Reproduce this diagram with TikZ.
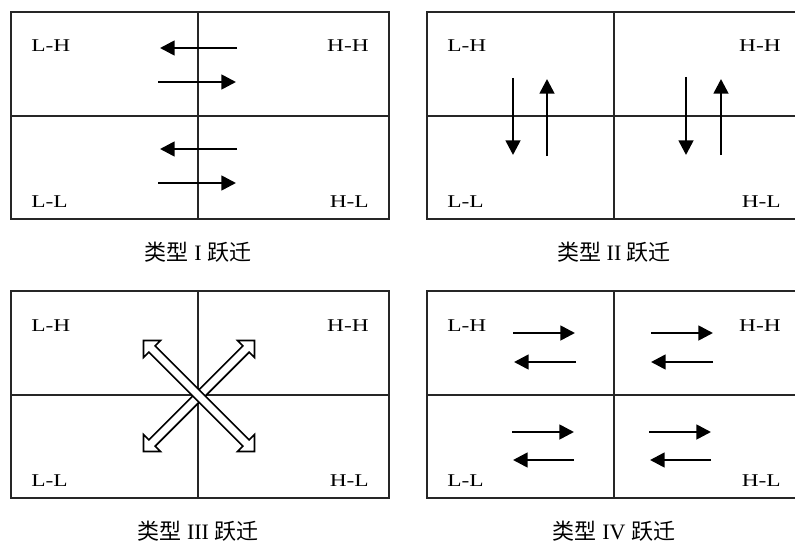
\documentclass[tikz,border=0pt]{standalone}
\usepackage{fontspec}
\setmainfont{Liberation Serif}
\newfontfamily\labfont[FakeStretch=1.3]{Liberation Serif}
\newfontfamily\cjk{Noto Sans CJK SC}
\usetikzlibrary{arrows.meta}

\tikzset{
  frame/.style={draw=black!85, line width=0.8pt},
  lbl/.style={inner sep=0pt, font=\labfont\fontsize{13.5pt}{16pt}\selectfont},
  captext/.style={inner sep=0pt, anchor=base, font=\fontsize{16.5pt}{20pt}\selectfont},
  arr/.style={line width=2pt, -{Triangle[length=11pt,width=11pt]}},
  hollow/.style={draw=black, line width=1.2pt, fill=white, line join=miter},
}

% one 2x2 panel: #1 left, #2 top, #3 middle x, #4 right, #5 name prefix, #6 caption numeral
\newcommand\quadpanel[6]{%
  \draw[frame] (#1,#2) rectangle (#4,#2+207);
  \draw[frame] (#3,#2) -- (#3,#2+207);
  \draw[frame] (#1,#2+104) -- (#4,#2+104);
  \node[lbl, anchor=base west] (#5lh) at (#1+20,#2+40) {L-H};
  \node[lbl, anchor=base east] (#5hh) at (#4-20,#2+40) {H-H};
  \node[lbl, anchor=base west] (#5ll) at (#1+20,#2+195) {L-L};
  \node[lbl, anchor=base east] (#5hl) at (#4-20,#2+195) {H-L};
  \node[captext] (#5cap) at (#3,#2+248) {{\cjk 类型} #6 {\cjk 跃迁}};
}

% double-headed block arrow along the local x axis
\newcommand\blockarrow{%
  \filldraw[hollow] (-78.5,0) -- (-66.5,12) -- (-66.5,4.5) -- (66.5,4.5) -- (66.5,12)
    -- (78.5,0) -- (66.5,-12) -- (66.5,-4.5) -- (-66.5,-4.5) -- (-66.5,-12) -- cycle;
}

\begin{document}
\begin{tikzpicture}[x=0.75pt, y=-0.75pt]
  \clip (0,0) rectangle (795,542);

  % type I: horizontal hops across the middle line
  \quadpanel{11}{12}{198}{389}{a}{I}
  \draw[arr] (237,48) -- (160,48);
  \draw[arr] (158,82) -- (236,82);
  \draw[arr] (237,149) -- (160,149);
  \draw[arr] (158,183) -- (236,183);

  % type II: vertical hops
  \quadpanel{427}{12}{614}{801}{b}{II}
  \draw[arr] (513,78) -- (513,155);
  \draw[arr] (547,156) -- (547,79);
  \draw[arr] (686,77) -- (686,155);
  \draw[arr] (721,155) -- (721,79);

  % type III: diagonal hops
  \quadpanel{11}{291}{198}{389}{c}{III}
  \begin{scope}[shift={(199,396)}, rotate=45]
    \blockarrow
  \end{scope}
  \begin{scope}[shift={(199,396)}, rotate=-45]
    \blockarrow
  \end{scope}

  % type IV: hops inside each quadrant
  \quadpanel{427}{291}{614}{801}{d}{IV}
  \draw[arr] (513,333) -- (575,333);
  \draw[arr] (576,362) -- (514,362);
  \draw[arr] (651,333) -- (713,333);
  \draw[arr] (713,362) -- (651,362);
  \draw[arr] (512,432) -- (574,432);
  \draw[arr] (574,460) -- (513,460);
  \draw[arr] (649,432) -- (711,432);
  \draw[arr] (711,460) -- (650,460);
\end{tikzpicture}
\end{document}
